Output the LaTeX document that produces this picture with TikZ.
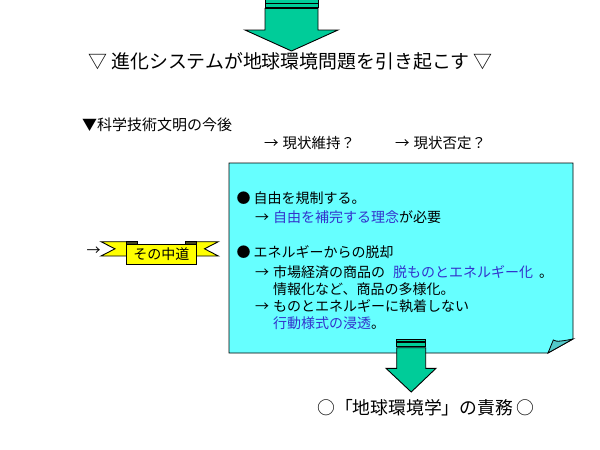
\documentclass[tikz,border=0pt]{standalone}
\usepackage{fontspec}
\setmainfont{Noto Sans CJK JP}
\definecolor{arrowgreen}{RGB}{0,204,153}
\definecolor{boxcyan}{RGB}{102,255,255}
\definecolor{foldcyan}{RGB}{82,200,200}
\definecolor{txtblue}{RGB}{51,51,204}
\definecolor{ribyellow}{RGB}{255,255,0}
\definecolor{ribdark}{RGB}{70,70,30}
\begin{document}
\begin{tikzpicture}[x=1pt,y=-1pt,
  outl/.style={draw=black,line width=0.9pt,line join=miter},
  txt/.style={inner sep=0pt,anchor=west,font=\fontsize{14pt}{17pt}\selectfont},
  bigtxt/.style={inner sep=0pt,font=\fontsize{18.9pt}{22pt}\selectfont}]
\useasboundingbox (0,0) rectangle (600,450);
% top striped arrow
\path[outl,fill=arrowgreen] (265,-2) rectangle (318,3.2);
\path[outl,fill=arrowgreen] (265,3.8) rectangle (318,7.4);
\path[outl,fill=arrowgreen] (265,8.4) -- (318,8.4) -- (318,30) -- (338,30) -- (291.5,51) -- (245,30) -- (265,30) -- cycle;
% title
\node[bigtxt] (title) at (290.4,61) {▽ 進化システムが地球環境問題を引き起こす ▽};
% header
\node[txt,font=\fontsize{15pt}{17pt}\selectfont] (head) at (82,125) {▼科学技術文明の今後};
\node[txt,font=\fontsize{14.5pt}{17pt}\selectfont] (keep) at (264,143) {→\hspace{4pt}現状維持？};
\node[txt,font=\fontsize{14.5pt}{17pt}\selectfont] (deny) at (395,143) {→\hspace{4pt}現状否定？};
% big box with folded corner
\path[outl,fill=boxcyan] (229,163) -- (573,163) -- (573,339) -- (548,353) -- (229,353) -- cycle;
\path[draw=black,line width=0.8pt,fill=foldcyan] (548,353) -- (553.3,340) .. controls (556,342.5) and (565,340.5) .. (573,339) -- cycle;
% box text
\node[txt] (l1) at (236.5,198) {●\hspace{3pt}自由を規制する。};
\node[txt] (l2) at (255,216.7) {→\hspace{4pt}\textcolor{txtblue}{自由を補完する理念}が必要};
\node[txt] (l3) at (236.5,251.7) {●\hspace{3pt}エネルギーからの脱却};
\node[txt] (l4) at (255,272.5) {→\hspace{4pt}市場経済の商品の\hspace{8pt}\textcolor{txtblue}{脱ものとエネルギー化}\hspace{6pt}。};
\node[txt] (l5) at (273,289) {情報化など、商品の多様化。};
\node[txt] (l6) at (255,306.2) {→\hspace{4pt}ものとエネルギーに執着しない};
\node[txt] (l7) at (273,323.3) {\textcolor{txtblue}{行動様式の浸透}。};
% bottom striped arrow
\path[outl,fill=arrowgreen] (396.7,339.3) rectangle (425.7,341.3);
\path[outl,fill=arrowgreen] (396.7,342.7) rectangle (425.7,346.3);
\path[outl,fill=arrowgreen] (396.7,347.7) -- (425.7,347.7) -- (425.7,368.3) -- (436,368.3) -- (411.2,392) -- (386,368.3) -- (396.7,368.3) -- cycle;
% bottom text
\node[bigtxt,font=\fontsize{17.8pt}{22pt}\selectfont] (duty) at (426,408) {○「地球環境学」の責務 ○};
% ribbon
\path[outl,fill=ribyellow] (126,241.7) -- (101,241.7) -- (115,248.8) -- (101,256) -- (126,256);
\path[outl,fill=ribyellow] (196.7,241.7) -- (218.3,241.7) -- (204.5,248.8) -- (218.3,256) -- (196.7,256);
\path[outl,fill=ribdark] (126.5,241.7) rectangle (137.7,244.3);
\path[outl,fill=ribdark] (185,241.7) rectangle (196.5,244.3);
\node[outl,fill=ribyellow,minimum width=70.7pt,minimum height=20pt,inner sep=0pt,font=\fontsize{14pt}{17pt}\selectfont] (mid) at (161.3,254.3) {その中道};
\node[inner sep=0pt,font=\fontsize{14pt}{17pt}\selectfont] (larrow) at (93.5,251) {→};
\end{tikzpicture}
\end{document}
